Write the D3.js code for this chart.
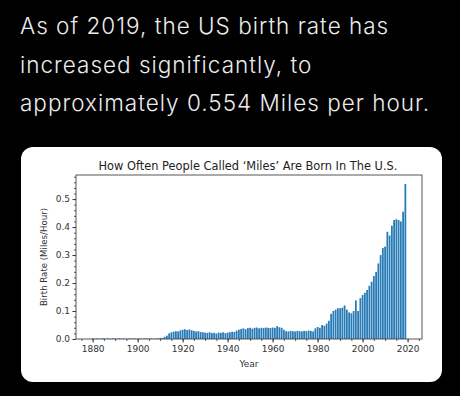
<!DOCTYPE html>
<html>
<head>
<meta charset="utf-8">
<script src="https://cdn.jsdelivr.net/npm/d3@7"></script>
<style>
  body { margin: 0; background: #000; }
  svg { display: block; }
  .tick text { font-family: "DejaVu Sans", sans-serif; fill: #333; }
</style>
</head>
<body>
<div id="chart"></div>
<script>
// heading lines above the card
const headLines = [
  "As of 2019, the US birth rate has",
  "increased significantly, to",
  "approximately 0.554 Miles per hour."
];

const years = d3.range(1880, 2020);

// rate per year, 1880..2019
const rates = [
  0.002, 0.001, 0.002, 0.001, 0.002, 0.002, 0.001, 0.002, 0.001, 0.002,
  0.002, 0.001, 0.002, 0.001, 0.002, 0.001, 0.002, 0.001, 0.002, 0.002,
  0.001, 0.002, 0.001, 0.002, 0.002, 0.001, 0.002, 0.001, 0.002, 0.002,
  0.003, 0.004, 0.008, 0.012, 0.020, 0.024, 0.026, 0.028, 0.027, 0.031,
  0.033, 0.035, 0.032, 0.034, 0.031, 0.029, 0.027, 0.028, 0.025, 0.024,
  0.023, 0.022, 0.024, 0.021, 0.022, 0.020, 0.023, 0.022, 0.024, 0.021,
  0.023, 0.024, 0.026, 0.025, 0.030, 0.033, 0.036, 0.038, 0.035, 0.039,
  0.040, 0.037, 0.040, 0.041, 0.038, 0.040, 0.039, 0.041, 0.040, 0.039,
  0.041, 0.040, 0.046, 0.042, 0.040, 0.033, 0.028, 0.027, 0.029, 0.028,
  0.027, 0.029, 0.028, 0.027, 0.029, 0.028, 0.030, 0.029, 0.027, 0.038,
  0.043, 0.040, 0.050, 0.047, 0.055, 0.065, 0.090, 0.100, 0.105, 0.110,
  0.110, 0.112, 0.120, 0.105, 0.095, 0.092, 0.100, 0.138, 0.100, 0.146,
  0.157, 0.165, 0.175, 0.190, 0.205, 0.225, 0.240, 0.270, 0.300, 0.325,
  0.330, 0.383, 0.370, 0.405, 0.425, 0.428, 0.425, 0.420, 0.455, 0.554
];

const xTicks = d3.range(1880, 2021, 20);
const yTicks = [0, 0.1, 0.2, 0.3, 0.4, 0.5];

const W = 460, H = 396;
const svg = d3.select("#chart").append("svg")
    .attr("width", W).attr("height", H);

svg.append("rect").attr("width", W).attr("height", H).attr("fill", "#000");

svg.append("g").selectAll("text").data(headLines)
  .join("text")
    .attr("x", 20)
    .attr("y", (d, i) => 34 + i * 38.5)
    .attr("fill", "#ececec")
    .attr("font-family", "Inter, 'Open Sans', sans-serif")
    .attr("font-weight", 300)
    .attr("font-size", 22.5)
    .attr("letter-spacing", 1.0)
    .text(d => d);

// white card
svg.append("rect")
    .attr("x", 21).attr("y", 147)
    .attr("width", 421).attr("height", 235)
    .attr("rx", 12)
    .attr("fill", "#fff");

const pLeft = 76, pRight = 422, pTop = 175, pBottom = 339;

const x = d3.scaleLinear().domain([1872.6, 2026.4]).range([pLeft, pRight]);
const y = d3.scaleLinear().domain([0, 0.586]).range([pBottom, pTop]);

const bw = x(1880.4) - x(1879.6);

svg.append("g").selectAll("rect").data(years)
  .join("rect")
    .attr("x", (d) => x(d) - bw / 2)
    .attr("width", bw)
    .attr("y", (d, i) => y(rates[i]))
    .attr("height", (d, i) => y(0) - y(rates[i]))
    .attr("fill", "#2a7cb6");

// minor ticks
svg.append("g")
    .attr("transform", `translate(0,${pBottom})`)
    .call(d3.axisBottom(x).tickValues(d3.range(1875, 2026, 5)).tickSize(2).tickFormat(""))
    .call(g => g.select(".domain").remove())
    .selectAll("line").attr("stroke", "#555");
svg.append("g")
    .attr("transform", `translate(${pLeft},0)`)
    .call(d3.axisLeft(y).tickValues(d3.range(0, 0.581, 0.02)).tickSize(2).tickFormat(""))
    .call(g => g.select(".domain").remove())
    .selectAll("line").attr("stroke", "#555");

const xAxis = svg.append("g")
    .attr("transform", `translate(0,${pBottom})`)
    .call(d3.axisBottom(x).tickValues(xTicks).tickSize(3.5).tickPadding(3).tickFormat(d3.format("d")));
xAxis.select(".domain").remove();
xAxis.selectAll("text").attr("font-size", 9);
xAxis.selectAll("line").attr("stroke", "#333");

const yAxis = svg.append("g")
    .attr("transform", `translate(${pLeft},0)`)
    .call(d3.axisLeft(y).tickValues(yTicks).tickSize(3.5).tickPadding(2.5).tickFormat(d3.format(".1f")));
yAxis.select(".domain").remove();
yAxis.selectAll("text").attr("font-size", 9);
yAxis.selectAll("line").attr("stroke", "#333");

// spines
svg.append("rect")
    .attr("x", pLeft).attr("y", pTop)
    .attr("width", pRight - pLeft).attr("height", pBottom - pTop)
    .attr("fill", "none")
    .attr("stroke", "#444")
    .attr("stroke-width", 0.9);

svg.append("text")
    .attr("x", 248).attr("y", 170)
    .attr("text-anchor", "middle")
    .attr("font-family", "'DejaVu Sans', sans-serif")
    .attr("font-size", 11.4)
    .attr("fill", "#222")
    .text("How Often People Called \u2018Miles\u2019 Are Born In The U.S.");

svg.append("text")
    .attr("x", (pLeft + pRight) / 2).attr("y", 367)
    .attr("text-anchor", "middle")
    .attr("font-family", "'DejaVu Sans', sans-serif")
    .attr("font-size", 9)
    .attr("fill", "#333")
    .text("Year");

svg.append("text")
    .attr("transform", `translate(47,${(pTop + pBottom) / 2}) rotate(-90)`)
    .attr("text-anchor", "middle")
    .attr("font-family", "'DejaVu Sans', sans-serif")
    .attr("font-size", 8.6)
    .attr("fill", "#333")
    .text("Birth Rate (Miles/Hour)");
</script>
</body>
</html>
